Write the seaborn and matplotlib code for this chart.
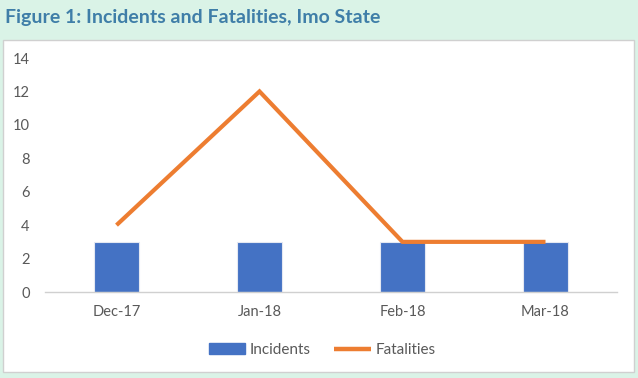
import matplotlib
matplotlib.use("Agg")
import matplotlib.pyplot as plt
import matplotlib.patches as mpatches
from matplotlib.lines import Line2D
import seaborn as sns
import pandas as pd

months = ["Dec-17", "Jan-18", "Feb-18", "Mar-18"]
incidents = [3, 3, 3, 3]
fatalities = [4, 12, 3, 3]
yticks = [0, 2, 4, 6, 8, 10, 12, 14]

df = pd.DataFrame({"Month": months, "Incidents": incidents, "Fatalities": fatalities})

sns.set_theme(style="white")
plt.rcParams["font.family"] = ["Lato", "DejaVu Sans"]

W, H = 638, 378
fig = plt.figure(figsize=(W / 100, H / 100), dpi=100)
fig.patch.set_facecolor("#DAF3E7")

# white panel
panel = mpatches.Rectangle((3 / W, 1 - 372 / H), (634 - 3) / W, (372 - 40) / H,
                           transform=fig.transFigure, facecolor="white",
                           edgecolor="#D0D0D0", linewidth=1.0, zorder=-10)
fig.patches.append(panel)

fig.text(5 / W, 1 - 18 / H, "Figure 1: Incidents and Fatalities, Imo State",
         color="#3F7EA8", fontsize=14, fontweight="bold", va="center", ha="left")

ax = fig.add_axes([45 / W, 1 - 292 / H, (617 - 45) / W, (292 - 58) / H])
ax.set_facecolor("none")
ax.set_zorder(1)

bar_color = "#4472C4"
line_color = "#ED7D31"

sns.barplot(data=df, x="Month", y="Incidents", color=bar_color, width=0.31,
            saturation=1, ax=ax, zorder=2, edgecolor="#E4E8F2", linewidth=0.8)
sns.lineplot(data=df, x="Month", y="Fatalities", color=line_color, linewidth=3,
             sort=False, ax=ax, zorder=3)
for ln in ax.get_lines():
    ln.set_solid_capstyle("butt")
    ln.set_solid_joinstyle("miter")

ax.set_xlim(-0.5, len(months) - 0.5)
ax.set_ylim(0, 14)
ax.set_yticks(yticks)
ax.set_xlabel("")
ax.set_ylabel("")
for s in ["top", "right", "left"]:
    ax.spines[s].set_visible(False)
ax.spines["bottom"].set_color("#D0D0D0")
ax.spines["bottom"].set_linewidth(1.0)

ax.set_xticks(range(len(months)))
ax.set_xticklabels(months)
ax.tick_params(axis="x", length=0, pad=9, labelsize=10.5, colors="#595959")
ax.tick_params(axis="y", length=0, pad=11, labelsize=10.5, colors="#595959")

# boundary tick marks
ax.set_xticks([i - 0.5 for i in range(len(months) + 1)], minor=True)
ax.tick_params(axis="x", which="minor", length=5, width=1, color="#D0D0D0", direction="out")

handles = [mpatches.Patch(color=bar_color, label="Incidents"),
           Line2D([0], [0], color=line_color, linewidth=3.2, solid_capstyle="butt",
                  label="Fatalities")]
fig.legend(handles=handles, loc="center", bbox_to_anchor=(322 / W, 1 - 350 / H),
           ncol=2, frameon=False, fontsize=11, handlelength=2.4, columnspacing=1.5,
           handletextpad=0.3, labelcolor="#595959")

fig.savefig("out.png", dpi=100, facecolor=fig.get_facecolor())
